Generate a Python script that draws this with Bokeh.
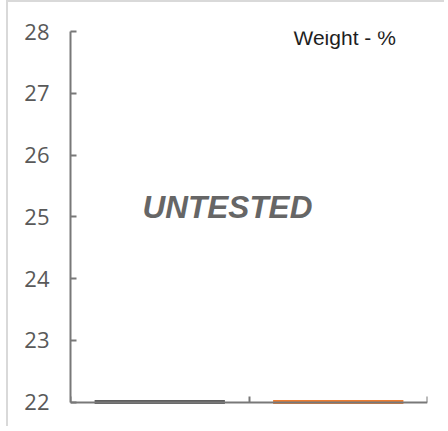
from bokeh.plotting import figure
from bokeh.models import Range1d, FixedTicker, Label, ColumnDataSource
from bokeh.embed import file_html
from bokeh.resources import INLINE

# data
categories = ["Series A", "Series B"]
positions = [0.5, 1.5]
values = [22, 22]
colors = ["#5f5f5f", "#ED7D31"]
y_ticks = [22, 23, 24, 25, 26, 27, 28]
x_boundaries = [0, 1, 2]
y_min, y_max = 22, 28

src = ColumnDataSource(dict(x=positions, top=values, cat=categories, color=colors))

p = figure(width=438, height=426, output_backend="svg", toolbar_location=None,
           x_range=Range1d(0, 2), y_range=Range1d(y_min - 0.04, y_max),
           min_border_left=62, min_border_top=29, min_border_right=19, min_border_bottom=24)
p.grid.visible = False
p.outline_line_color = None
p.styles = {"border-left": "2px solid #d9d9d9", "border-top": "2px solid #d9d9d9",
            "margin-left": "6px"}

p.vbar(x="x", top="top", bottom=y_min, width=0.73, source=src,
       fill_color="color", line_color="color", line_width=4)

yax = p.yaxis[0]
yax.ticker = FixedTicker(ticks=y_ticks)
yax.bounds = (y_min, y_max)
yax.major_tick_in = 6
yax.major_tick_out = 0
yax.minor_tick_line_color = None
yax.axis_line_color = "#787878"
yax.axis_line_width = 2
yax.major_tick_line_color = "#787878"
yax.major_tick_line_width = 2
yax.major_label_text_font = "Open Sans"
yax.major_label_text_font_size = "22px"
yax.major_label_text_color = "#595959"
yax.major_label_standoff = 21

xax = p.xaxis[0]
xax.fixed_location = y_min
xax.ticker = FixedTicker(ticks=x_boundaries)
xax.major_tick_in = 6
xax.major_tick_out = 0
xax.minor_tick_line_color = None
xax.axis_line_color = "#787878"
xax.axis_line_width = 2
xax.major_tick_line_color = "#787878"
xax.major_tick_line_width = 2
xax.major_label_overrides = {b: "" for b in x_boundaries}
xax.major_label_standoff = 0

p.add_layout(Label(x=223, y=367, x_units="screen", y_units="screen", text="Weight - %",
                   text_font="Liberation Sans", text_font_size="21px", text_color="#1e1e1e",
                   text_baseline="alphabetic", text_align="left"))
p.add_layout(Label(x=157, y=198, x_units="screen", y_units="screen", text="UNTESTED",
                   text_font="Liberation Sans", text_font_size="31.5px", text_color="#666666",
                   text_font_style="bold italic", text_baseline="alphabetic", text_align="center"))

open("out.html", "w").write(file_html(p, INLINE))
